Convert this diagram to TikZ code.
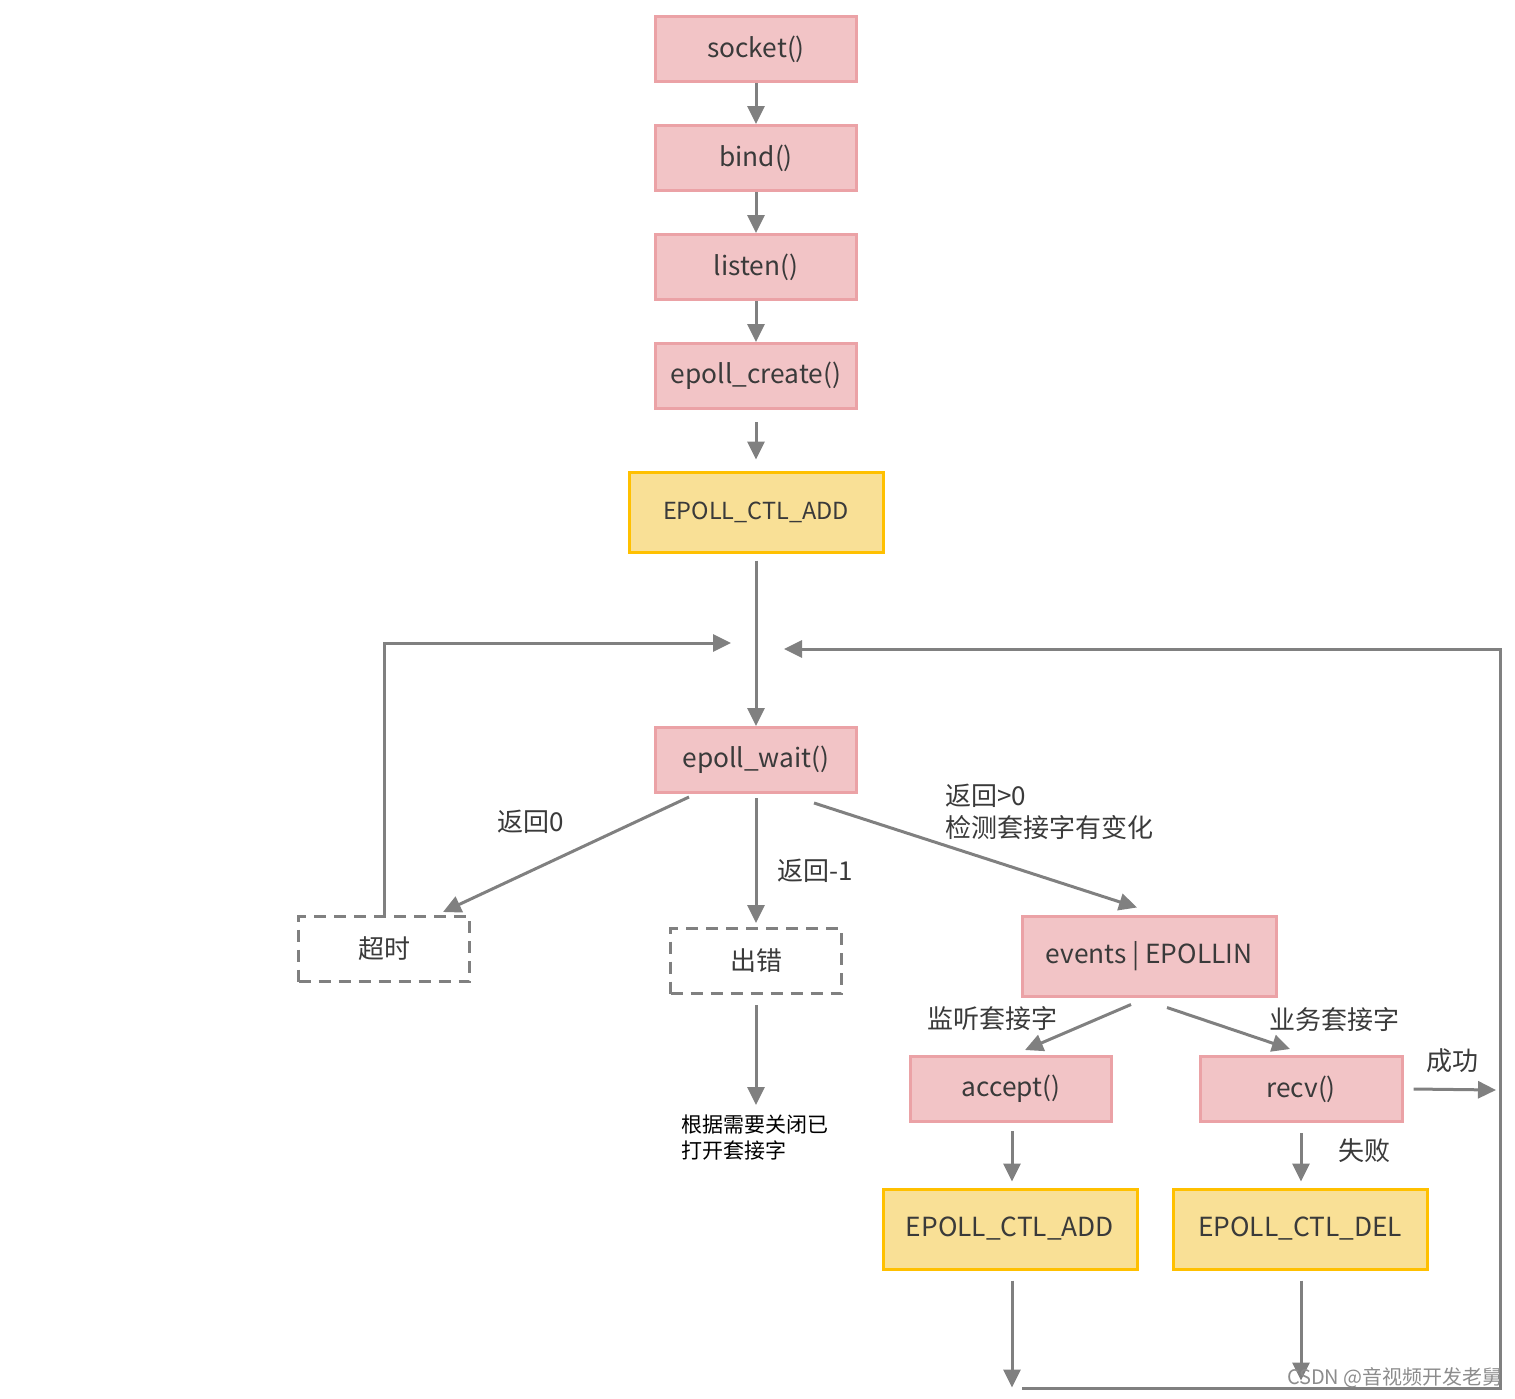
\documentclass[tikz,border=0pt]{standalone}
\usepackage{fontspec}
\setmainfont{Noto Sans CJK SC}
\newfontfamily\cjk{Noto Sans CJK SC}
\usetikzlibrary{arrows.meta}
\definecolor{pinkf}{HTML}{F2C4C6}
\definecolor{pinkb}{HTML}{EBA2A6}
\definecolor{yelf}{HTML}{F9E096}
\definecolor{yelb}{HTML}{FFC000}
\definecolor{arrc}{HTML}{808080}
\definecolor{txt}{HTML}{3A3A3A}
\tikzset{
  pinkbox/.style={draw=pinkb, fill=pinkf, line width=3pt, minimum width=201pt, minimum height=65pt, inner sep=0pt, text=txt, font=\cjk\fontsize{26.3}{30}\selectfont},
  yelbox/.style={draw=yelb, fill=yelf, line width=3pt, minimum width=254pt, minimum height=80pt, inner sep=0pt, text=txt, font=\cjk\fontsize{26.3}{30}\selectfont},
  dashbox/.style={draw=arrc, line width=3pt, dash pattern=on 12pt off 8pt, minimum width=171pt, minimum height=65pt, inner sep=0pt, text=txt, font=\cjk\fontsize{26}{30}\selectfont},
  lbl/.style={inner sep=0pt, text=txt, font=\cjk\fontsize{26}{32}\selectfont},
  arr/.style={draw=arrc, line width=3pt, -{Triangle[length=18pt,width=17pt]}},
  ln/.style={draw=arrc, line width=3pt},
}
\begin{document}
\begin{tikzpicture}[x=1pt,y=-1pt]
\useasboundingbox (0,0) rectangle (1515,1398);
% top column
\node[pinkbox] (socket) at (756,49) {socket()};
\node[pinkbox] (bind) at (756,158) {bind()};
\node[pinkbox] (listen) at (756,267) {listen()};
\node[pinkbox] (create) at (756,376) {epoll\_create()};
\node[yelbox, font=\cjk\fontsize{23.5}{28}\selectfont] (add1) at (756,512) {EPOLL\_CTL\_ADD};
\node[pinkbox] (wait) at (756,760) {epoll\_wait()};
\node[dashbox] (timeout) at (384,949) {超时};
\node[dashbox] (err) at (756,961) {出错};
\node[pinkbox, minimum width=254pt, minimum height=80pt] (events) at (1149,956) {events | EPOLLIN};
\node[pinkbox] (accept) at (1011,1089) {accept()};
\node[pinkbox, minimum width=202pt] (recv) at (1301,1089) {recv()};
\node[yelbox] (add2) at (1010,1229) {EPOLL\_CTL\_ADD};
\node[yelbox] (del) at (1300,1229) {EPOLL\_CTL\_DEL};
\node[inner sep=0pt, align=left, anchor=west, font=\cjk\fontsize{21}{26}\selectfont] (note) at (681,1138) {根据需要关闭已\\打开套接字};

% coordinates for free ends
\coordinate (loopL) at (731,643);
\coordinate (loopR) at (784,649);
\coordinate (cornerR) at (1500,649);
\coordinate (cornerB) at (1500,1388);
\coordinate (startB) at (1022,1388);
\coordinate (okend) at (1496,1090);

% arrows top
\draw[arr] (socket.south) -- (bind.north);
\draw[arr] (bind.south) -- (listen.north);
\draw[arr] (listen.south) -- (create.north);
\draw[arr] ([shift={(0,12)}]create.south) -- ([shift={(0,-11)}]add1.north);
\draw[arr] ([shift={(0,7)}]add1.south) -- (wait.north);

% loops
\draw[arr] (timeout.north) |- (loopL);
\draw[arr] (startB) -- (cornerB) -- (cornerR) -- (loopR);

% branches from epoll_wait
\draw[arr] ([shift={(-67,3)}]wait.south) -- ([shift={(59,-3)}]timeout.north);
\draw[arr] ([shift={(0,4)}]wait.south) -- ([shift={(0,-4)}]err.north);
\draw[arr] ([shift={(58,9)}]wait.south) -- ([shift={(-12,-7)}]events.north);
\node[lbl] (l0) at (531,822) {返回0};
\node[lbl] (l1) at (815,871) {返回-1};
\node[lbl, align=left, anchor=west] (l2) at (945,812) {返回>0\\检测套接字有变化};

% error path
\draw[arr] ([shift={(0,10)}]err.south) -- ([shift={(0,-10)}]note.north -| err.south);

% events branches
\draw[arr] ([shift={(-18,7)}]events.south) -- ([shift={(14,-5)}]accept.north);
\draw[arr] ([shift={(18,10)}]events.south) -- ([shift={(-11,-6)}]recv.north);
\node[lbl] (lst) at (992,1019) {监听套接字};
\node[lbl] (biz) at (1334,1020) {业务套接字};

% accept / recv
\draw[arr] ([shift={(1,8)}]accept.south) -- ([shift={(2,-6)}]add2.north);
\draw[arr] ([shift={(0,10)}]recv.south) -- ([shift={(1,-6)}]del.north);
\draw[arr] ([shift={(10,0)}]recv.east) -- (okend);
\node[lbl] (ok) at (1452,1061) {成功};
\node[lbl] (fail) at (1364,1151) {失败};

% bottom
\draw[arr] ([shift={(2,10)}]add2.south) -- ++(0,107);
\draw[arr] ([shift={(1,10)}]del.south) -- ++(0,100);

% watermark
\node[inner sep=0pt, anchor=east, text=black!45, font=\cjk\fontsize{20}{22}\selectfont] (wm) at (1503,1378) {CSDN @音视频开发老舅};
\end{tikzpicture}
\end{document}
